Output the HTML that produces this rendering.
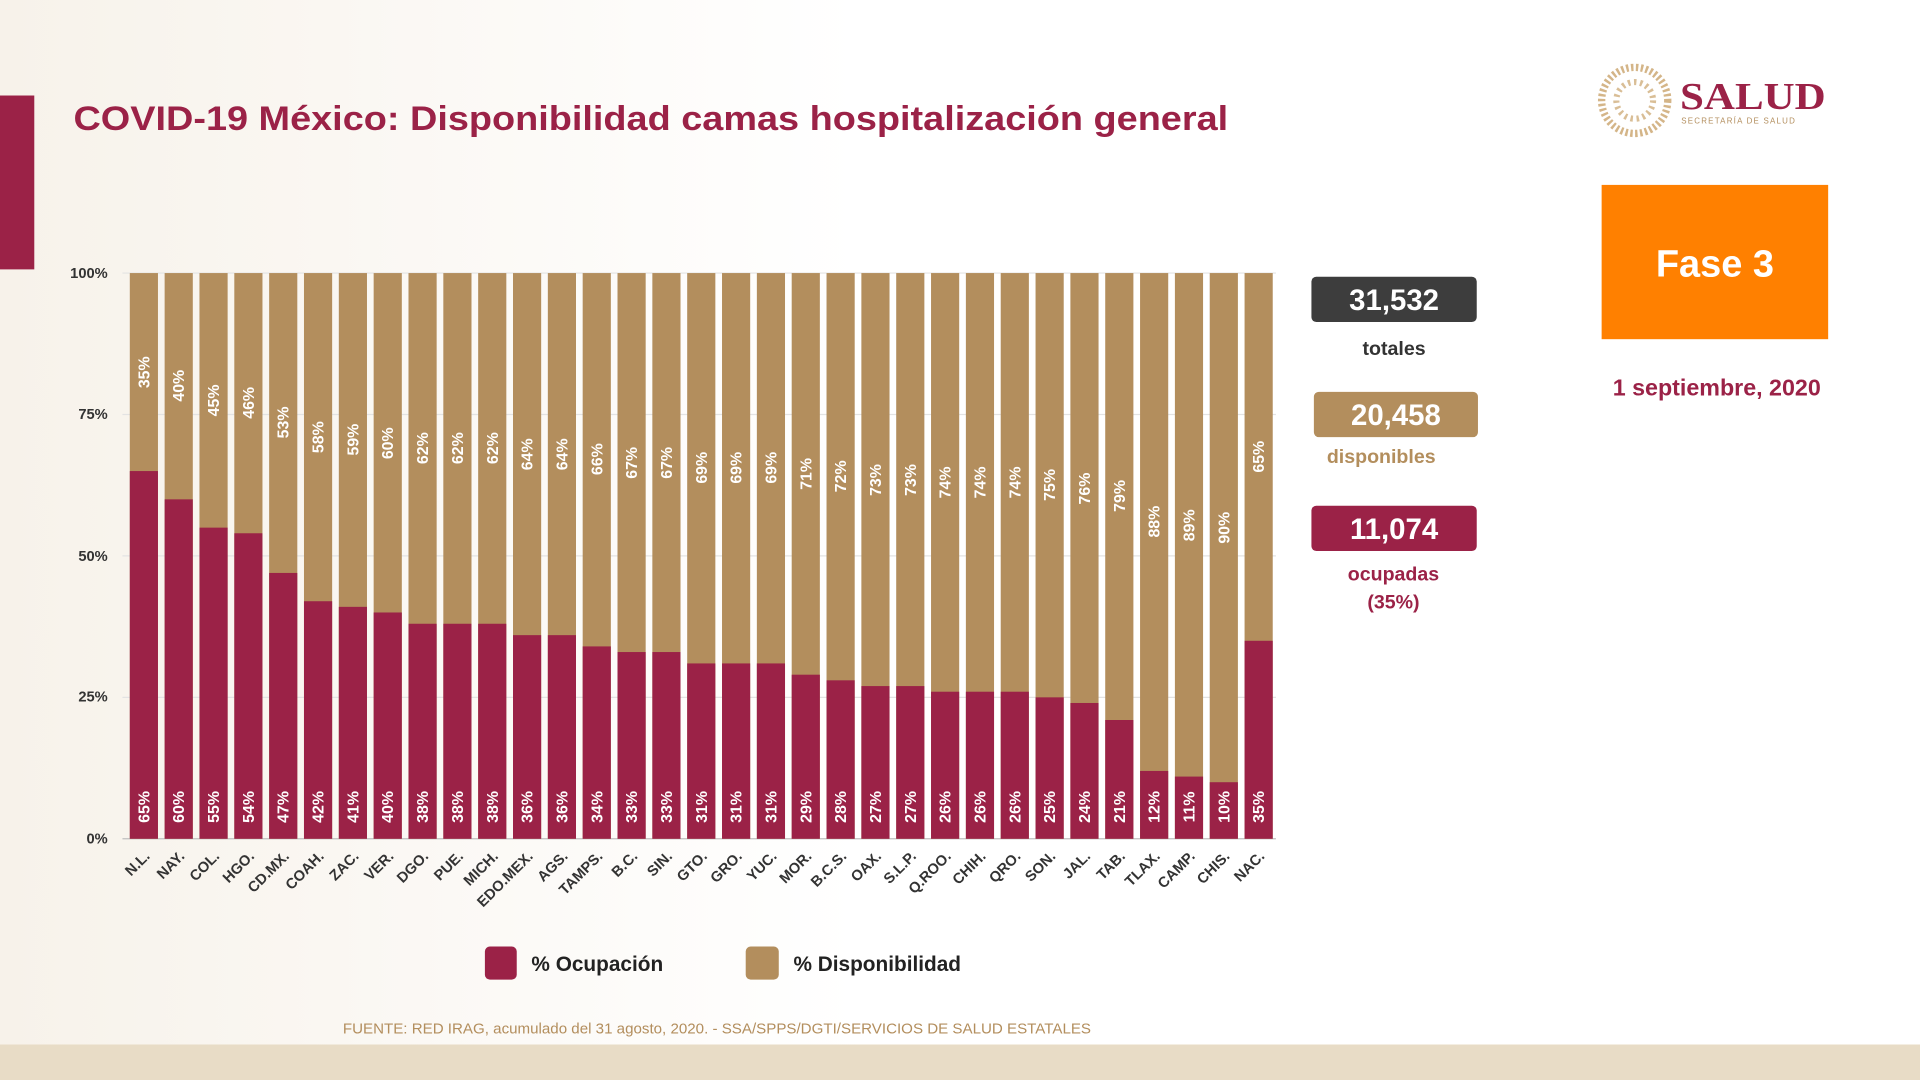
<!DOCTYPE html>
<html><head><meta charset="utf-8"><style>
html,body{margin:0;padding:0;background:#fff;}
svg{display:block;font-family:"Liberation Sans",sans-serif;}
</style></head><body>
<svg width="1920" height="1080" viewBox="0 0 1568 882" preserveAspectRatio="none" xmlns="http://www.w3.org/2000/svg">
<defs><linearGradient id="bg" x1="0" x2="1" y1="0" y2="0"><stop offset="0" stop-color="#f7f2ea"/><stop offset="1" stop-color="#ffffff"/></linearGradient></defs>
<rect width="1568" height="882" fill="#fff"/>
<rect x="0" y="0" width="700" height="882" fill="url(#bg)"/>
<rect x="0" y="853" width="1568" height="29" fill="#e8dcc6"/>
<rect x="0" y="78" width="28" height="142" fill="#9b2247"/>
<text x="60" y="106" font-size="28" font-weight="bold" fill="#9b2247" textLength="943" lengthAdjust="spacingAndGlyphs">COVID-19 México: Disponibilidad camas hospitalización general</text>
<!-- logo -->
<circle cx="1335" cy="82" r="27" fill="none" stroke="#c9a36a" stroke-width="6" stroke-dasharray="2 2" opacity="0.8"/>
<circle cx="1335" cy="82" r="15" fill="none" stroke="#c9a36a" stroke-width="5" stroke-dasharray="2 3" opacity="0.7"/>
<text x="1372" y="89" font-family="Liberation Serif,serif" font-size="31" font-weight="bold" fill="#9b2247" textLength="119" lengthAdjust="spacingAndGlyphs">SALUD</text>
<text x="1373" y="101" font-size="6.5" fill="#b38e5d" letter-spacing="1">SECRETARÍA DE SALUD</text>
<!-- gridlines -->
<g stroke="#e3e3e3" stroke-width="1">
<line x1="100" x2="1042" y1="223" y2="223"/><line x1="100" x2="1042" y1="338.5" y2="338.5"/><line x1="100" x2="1042" y1="454" y2="454"/><line x1="100" x2="1042" y1="569.5" y2="569.5"/>
</g>
<line x1="100" x2="1042" y1="685" y2="685" stroke="#bfbfbf"/>
<g font-size="12" font-weight="bold" fill="#333" text-anchor="end">
<text x="88" y="227">100%</text><text x="88" y="342">75%</text><text x="88" y="458">50%</text><text x="88" y="573">25%</text><text x="88" y="689">0%</text>
</g>
<!-- gold bars -->
<g fill="#b38e5d">
<rect x="106" y="223" width="23" height="462"/><rect x="134.45" y="223" width="23" height="462"/><rect x="162.9" y="223" width="23" height="462"/><rect x="191.35" y="223" width="23" height="462"/><rect x="219.8" y="223" width="23" height="462"/><rect x="248.25" y="223" width="23" height="462"/><rect x="276.7" y="223" width="23" height="462"/><rect x="305.15" y="223" width="23" height="462"/><rect x="333.6" y="223" width="23" height="462"/><rect x="362.05" y="223" width="23" height="462"/><rect x="390.5" y="223" width="23" height="462"/><rect x="418.95" y="223" width="23" height="462"/><rect x="447.4" y="223" width="23" height="462"/><rect x="475.85" y="223" width="23" height="462"/><rect x="504.3" y="223" width="23" height="462"/><rect x="532.75" y="223" width="23" height="462"/><rect x="561.2" y="223" width="23" height="462"/><rect x="589.65" y="223" width="23" height="462"/><rect x="618.1" y="223" width="23" height="462"/><rect x="646.55" y="223" width="23" height="462"/><rect x="675" y="223" width="23" height="462"/><rect x="703.45" y="223" width="23" height="462"/><rect x="731.9" y="223" width="23" height="462"/><rect x="760.35" y="223" width="23" height="462"/><rect x="788.8" y="223" width="23" height="462"/><rect x="817.25" y="223" width="23" height="462"/><rect x="845.7" y="223" width="23" height="462"/><rect x="874.15" y="223" width="23" height="462"/><rect x="902.6" y="223" width="23" height="462"/><rect x="931.05" y="223" width="23" height="462"/><rect x="959.5" y="223" width="23" height="462"/><rect x="987.95" y="223" width="23" height="462"/><rect x="1016.4" y="223" width="23" height="462"/>
</g>
<!-- maroon bars -->
<g fill="#9b2247">
<rect x="106" y="384.7" width="23" height="300.3"/>
<rect x="134.45" y="407.8" width="23" height="277.2"/>
<rect x="162.9" y="430.9" width="23" height="254.1"/>
<rect x="191.35" y="435.5" width="23" height="249.5"/>
<rect x="219.8" y="467.9" width="23" height="217.1"/>
<rect x="248.25" y="491" width="23" height="194"/>
<rect x="276.7" y="495.6" width="23" height="189.4"/>
<rect x="305.15" y="500.2" width="23" height="184.8"/>
<rect x="333.6" y="509.4" width="23" height="175.6"/>
<rect x="362.05" y="509.4" width="23" height="175.6"/>
<rect x="390.5" y="509.4" width="23" height="175.6"/>
<rect x="418.95" y="518.7" width="23" height="166.3"/>
<rect x="447.4" y="518.7" width="23" height="166.3"/>
<rect x="475.85" y="527.9" width="23" height="157.1"/>
<rect x="504.3" y="532.5" width="23" height="152.5"/>
<rect x="532.75" y="532.5" width="23" height="152.5"/>
<rect x="561.2" y="541.8" width="23" height="143.2"/>
<rect x="589.65" y="541.8" width="23" height="143.2"/>
<rect x="618.1" y="541.8" width="23" height="143.2"/>
<rect x="646.55" y="551" width="23" height="134"/>
<rect x="675" y="555.6" width="23" height="129.4"/>
<rect x="703.45" y="560.3" width="23" height="124.7"/>
<rect x="731.9" y="560.3" width="23" height="124.7"/>
<rect x="760.35" y="564.9" width="23" height="120.1"/>
<rect x="788.8" y="564.9" width="23" height="120.1"/>
<rect x="817.25" y="564.9" width="23" height="120.1"/>
<rect x="845.7" y="569.5" width="23" height="115.5"/>
<rect x="874.15" y="574.1" width="23" height="110.9"/>
<rect x="902.6" y="588" width="23" height="97"/>
<rect x="931.05" y="629.6" width="23" height="55.4"/>
<rect x="959.5" y="634.2" width="23" height="50.8"/>
<rect x="987.95" y="638.8" width="23" height="46.2"/>
<rect x="1016.4" y="523.3" width="23" height="161.7"/>
</g>
<!-- occupation labels -->
<g font-size="13" font-weight="bold" fill="#fff" text-anchor="middle">
<text transform="translate(122,659) rotate(-90)">65%</text>
<text transform="translate(150.45,659) rotate(-90)">60%</text>
<text transform="translate(178.9,659) rotate(-90)">55%</text>
<text transform="translate(207.35,659) rotate(-90)">54%</text>
<text transform="translate(235.8,659) rotate(-90)">47%</text>
<text transform="translate(264.25,659) rotate(-90)">42%</text>
<text transform="translate(292.7,659) rotate(-90)">41%</text>
<text transform="translate(321.15,659) rotate(-90)">40%</text>
<text transform="translate(349.6,659) rotate(-90)">38%</text>
<text transform="translate(378.05,659) rotate(-90)">38%</text>
<text transform="translate(406.5,659) rotate(-90)">38%</text>
<text transform="translate(434.95,659) rotate(-90)">36%</text>
<text transform="translate(463.4,659) rotate(-90)">36%</text>
<text transform="translate(491.85,659) rotate(-90)">34%</text>
<text transform="translate(520.3,659) rotate(-90)">33%</text>
<text transform="translate(548.75,659) rotate(-90)">33%</text>
<text transform="translate(577.2,659) rotate(-90)">31%</text>
<text transform="translate(605.65,659) rotate(-90)">31%</text>
<text transform="translate(634.1,659) rotate(-90)">31%</text>
<text transform="translate(662.55,659) rotate(-90)">29%</text>
<text transform="translate(691,659) rotate(-90)">28%</text>
<text transform="translate(719.45,659) rotate(-90)">27%</text>
<text transform="translate(747.9,659) rotate(-90)">27%</text>
<text transform="translate(776.35,659) rotate(-90)">26%</text>
<text transform="translate(804.8,659) rotate(-90)">26%</text>
<text transform="translate(833.25,659) rotate(-90)">26%</text>
<text transform="translate(861.7,659) rotate(-90)">25%</text>
<text transform="translate(890.15,659) rotate(-90)">24%</text>
<text transform="translate(918.6,659) rotate(-90)">21%</text>
<text transform="translate(947.05,659) rotate(-90)">12%</text>
<text transform="translate(975.5,659) rotate(-90)">11%</text>
<text transform="translate(1003.95,659) rotate(-90)">10%</text>
<text transform="translate(1032.4,659) rotate(-90)">35%</text>
</g>
<!-- availability labels -->
<g font-size="13" font-weight="bold" fill="#fff" text-anchor="middle">
<text transform="translate(122,304) rotate(-90)">35%</text>
<text transform="translate(150.45,315) rotate(-90)">40%</text>
<text transform="translate(178.9,327) rotate(-90)">45%</text>
<text transform="translate(207.35,329) rotate(-90)">46%</text>
<text transform="translate(235.8,345) rotate(-90)">53%</text>
<text transform="translate(264.25,357) rotate(-90)">58%</text>
<text transform="translate(292.7,359) rotate(-90)">59%</text>
<text transform="translate(321.15,362) rotate(-90)">60%</text>
<text transform="translate(349.6,366) rotate(-90)">62%</text>
<text transform="translate(378.05,366) rotate(-90)">62%</text>
<text transform="translate(406.5,366) rotate(-90)">62%</text>
<text transform="translate(434.95,371) rotate(-90)">64%</text>
<text transform="translate(463.4,371) rotate(-90)">64%</text>
<text transform="translate(491.85,375) rotate(-90)">66%</text>
<text transform="translate(520.3,378) rotate(-90)">67%</text>
<text transform="translate(548.75,378) rotate(-90)">67%</text>
<text transform="translate(577.2,382) rotate(-90)">69%</text>
<text transform="translate(605.65,382) rotate(-90)">69%</text>
<text transform="translate(634.1,382) rotate(-90)">69%</text>
<text transform="translate(662.55,387) rotate(-90)">71%</text>
<text transform="translate(691,389) rotate(-90)">72%</text>
<text transform="translate(719.45,392) rotate(-90)">73%</text>
<text transform="translate(747.9,392) rotate(-90)">73%</text>
<text transform="translate(776.35,394) rotate(-90)">74%</text>
<text transform="translate(804.8,394) rotate(-90)">74%</text>
<text transform="translate(833.25,394) rotate(-90)">74%</text>
<text transform="translate(861.7,396) rotate(-90)">75%</text>
<text transform="translate(890.15,399) rotate(-90)">76%</text>
<text transform="translate(918.6,405) rotate(-90)">79%</text>
<text transform="translate(947.05,426) rotate(-90)">88%</text>
<text transform="translate(975.5,429) rotate(-90)">89%</text>
<text transform="translate(1003.95,431) rotate(-90)">90%</text>
<text transform="translate(1032.4,373) rotate(-90)">65%</text>
</g>
<!-- x labels -->
<g font-size="12" font-weight="bold" fill="#333" text-anchor="end">
<text transform="translate(123,700) rotate(-45)">N.L.</text>
<text transform="translate(151.45,700) rotate(-45)">NAY.</text>
<text transform="translate(179.9,700) rotate(-45)">COL.</text>
<text transform="translate(208.35,700) rotate(-45)">HGO.</text>
<text transform="translate(236.8,700) rotate(-45)">CD.MX.</text>
<text transform="translate(265.25,700) rotate(-45)">COAH.</text>
<text transform="translate(293.7,700) rotate(-45)">ZAC.</text>
<text transform="translate(322.15,700) rotate(-45)">VER.</text>
<text transform="translate(350.6,700) rotate(-45)">DGO.</text>
<text transform="translate(379.05,700) rotate(-45)">PUE.</text>
<text transform="translate(407.5,700) rotate(-45)">MICH.</text>
<text transform="translate(435.95,700) rotate(-45)">EDO.MEX.</text>
<text transform="translate(464.4,700) rotate(-45)">AGS.</text>
<text transform="translate(492.85,700) rotate(-45)">TAMPS.</text>
<text transform="translate(521.3,700) rotate(-45)">B.C.</text>
<text transform="translate(549.75,700) rotate(-45)">SIN.</text>
<text transform="translate(578.2,700) rotate(-45)">GTO.</text>
<text transform="translate(606.65,700) rotate(-45)">GRO.</text>
<text transform="translate(635.1,700) rotate(-45)">YUC.</text>
<text transform="translate(663.55,700) rotate(-45)">MOR.</text>
<text transform="translate(692,700) rotate(-45)">B.C.S.</text>
<text transform="translate(720.45,700) rotate(-45)">OAX.</text>
<text transform="translate(748.9,700) rotate(-45)">S.L.P.</text>
<text transform="translate(777.35,700) rotate(-45)">Q.ROO.</text>
<text transform="translate(805.8,700) rotate(-45)">CHIH.</text>
<text transform="translate(834.25,700) rotate(-45)">QRO.</text>
<text transform="translate(862.7,700) rotate(-45)">SON.</text>
<text transform="translate(891.15,700) rotate(-45)">JAL.</text>
<text transform="translate(919.6,700) rotate(-45)">TAB.</text>
<text transform="translate(948.05,700) rotate(-45)">TLAX.</text>
<text transform="translate(976.5,700) rotate(-45)">CAMP.</text>
<text transform="translate(1004.95,700) rotate(-45)">CHIS.</text>
<text transform="translate(1033.4,700) rotate(-45)">NAC.</text>
</g>
<!-- legend -->
<rect x="396" y="773" width="26" height="27" rx="4" fill="#9b2247"/>
<text x="434" y="793" font-size="17" font-weight="bold" fill="#222">% Ocupación</text>
<rect x="609" y="773" width="27" height="27" rx="4" fill="#b38e5d"/>
<text x="648" y="793" font-size="17" font-weight="bold" fill="#222">% Disponibilidad</text>
<text x="280" y="844" font-size="12" fill="#b38e5d" textLength="611" lengthAdjust="spacingAndGlyphs">FUENTE: RED IRAG, acumulado del 31 agosto, 2020. -  SSA/SPPS/DGTI/SERVICIOS DE SALUD ESTATALES</text>
<!-- right stats -->
<rect x="1071" y="226" width="135" height="37" rx="4" fill="#3d3d3d"/>
<text x="1138.5" y="253" font-size="24" font-weight="bold" fill="#fff" text-anchor="middle">31,532</text>
<text x="1138.5" y="290" font-size="16" font-weight="bold" fill="#333" text-anchor="middle">totales</text>
<rect x="1073" y="320" width="134" height="37" rx="4" fill="#b38e5d"/>
<text x="1140" y="347" font-size="24" font-weight="bold" fill="#fff" text-anchor="middle">20,458</text>
<text x="1128" y="378" font-size="16" font-weight="bold" fill="#b38e5d" text-anchor="middle">disponibles</text>
<rect x="1071" y="413" width="135" height="37" rx="4" fill="#9b2247"/>
<text x="1138.5" y="440" font-size="24" font-weight="bold" fill="#fff" text-anchor="middle">11,074</text>
<text x="1138" y="474" font-size="16" font-weight="bold" fill="#9b2247" text-anchor="middle">ocupadas</text>
<text x="1138" y="497" font-size="16" font-weight="bold" fill="#9b2247" text-anchor="middle">(35%)</text>
<rect x="1308" y="151" width="185" height="126" fill="#ff8000"/>
<text x="1400.5" y="226" font-size="31" font-weight="bold" fill="#fff" text-anchor="middle">Fase 3</text>
<text x="1402" y="323" font-size="19" font-weight="bold" fill="#9b2247" text-anchor="middle">1 septiembre, 2020</text>
</svg>
</body></html>
